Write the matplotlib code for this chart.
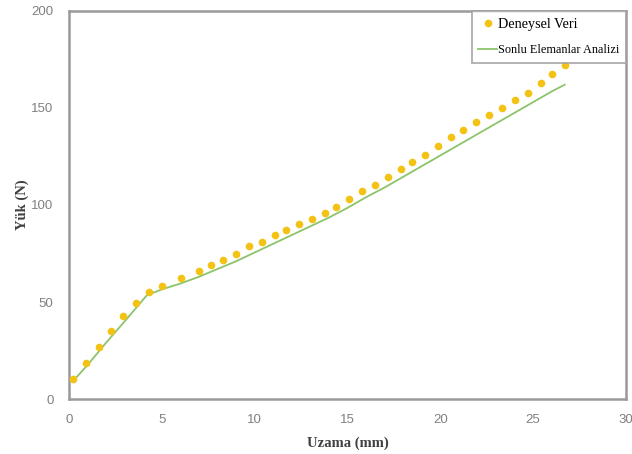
import matplotlib
matplotlib.use("Agg")
from matplotlib import pyplot as plt

# Deneysel veri (noktalar)
exp_x = [0.2, 0.9, 1.6, 2.25, 2.9, 3.6, 4.3, 5.0, 6.05, 7.0, 7.65, 8.3, 9.0, 9.7,
         10.4, 11.1, 11.7, 12.4, 13.1, 13.8, 14.4, 15.1, 15.8, 16.5, 17.2, 17.9,
         18.5, 19.2, 19.9, 20.6, 21.2, 21.9, 22.6, 23.3, 24.0, 24.7, 25.4, 26.0, 26.7]
exp_y = [10.5, 18.7, 27, 35, 42.8, 49.6, 55.3, 58.5, 62.2, 65.8, 69, 71.8, 74.7, 79,
         81, 84.5, 87.3, 90.3, 92.6, 96, 98.8, 103, 107.2, 110.3, 114.3, 118.4,
         122.3, 125.8, 130.4, 134.9, 138.7, 143, 146.4, 150, 154, 157.9, 162.7, 167.5, 172.2]

# Sonlu elemanlar analizi (cizgi)
fea_x = [0.2, 1, 2, 3, 4.2, 5, 6, 7, 8, 9, 10, 11, 12, 13, 14, 15, 16, 17, 18, 19,
         20, 21, 22, 23, 24, 25, 26, 26.7]
fea_y = [9, 17.5, 29, 40, 53.5, 56.5, 59.5, 63, 67, 71, 75.5, 80, 84.5, 89, 93.5,
         98.5, 104, 109, 114.5, 120, 125.5, 131, 136.5, 142, 147.5, 153, 158.5, 162]

fig = plt.figure(figsize=(6.32, 4.54), dpi=100)
ax = fig.add_axes([0.109, 0.121, 0.8815, 0.855])

ax.plot(exp_x, exp_y, linestyle='none', marker='o', markersize=5.5,
        color='#F2C314', markeredgewidth=0, label='Deneysel Veri', zorder=3)
ax.plot(fea_x, fea_y, color='#8CC46A', linewidth=1.3,
        label='Sonlu Elemanlar Analizi', zorder=2)

ax.set_xlim(0, 30)
ax.set_ylim(0, 200)
ax.set_xticks([0, 5, 10, 15, 20, 25, 30])
ax.set_yticks([0, 50, 100, 150, 200])
ax.tick_params(length=0, labelsize=9.5, labelcolor='#808080', pad=11)
for lab in ax.get_xticklabels() + ax.get_yticklabels():
    lab.set_family('Liberation Sans')

for sp in ax.spines.values():
    sp.set_color('#9a9a9a')
    sp.set_linewidth(1.8)

ax.set_xlabel('Uzama (mm)', family='Liberation Serif', fontsize=10.5,
              fontweight='bold', color='#404040', labelpad=7)
ax.set_ylabel('Yük (N)', family='Liberation Serif', fontsize=10.5,
              fontweight='bold', color='#404040', labelpad=2)

leg = ax.legend(loc='upper right', prop={'family': 'Liberation Serif', 'size': 8.8},
                frameon=True, fancybox=False, edgecolor='#a0a0a0',
                borderaxespad=0.0, borderpad=0.55, handlelength=1.55,
                handletextpad=0.05, labelspacing=1.1, numpoints=1)
leg.get_frame().set_linewidth(1.4)
leg.get_texts()[0].set_fontsize(10.2)

fig.savefig('out.png', dpi=100)
